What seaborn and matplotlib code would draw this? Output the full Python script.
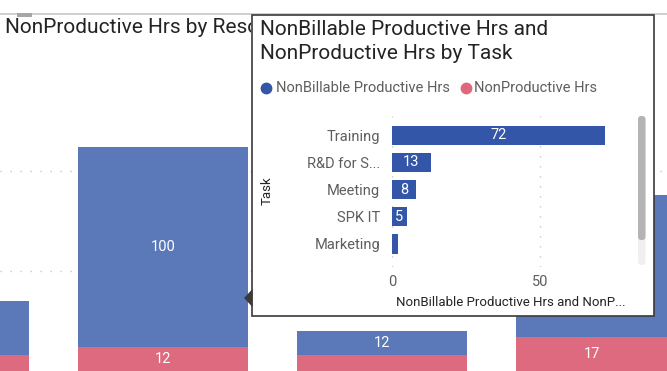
import matplotlib
matplotlib.use("Agg")
import matplotlib.pyplot as plt
import seaborn as sns
import pandas as pd
from matplotlib.patches import Rectangle, Polygon, FancyBboxPatch
from matplotlib.lines import Line2D
from matplotlib.transforms import IdentityTransform, Bbox, TransformedBbox

# ---------------- data ----------------
resources = ["Resource 1", "Resource 2", "Resource 3", "Resource 4"]
bg_nonbillable = [27, 100, 12, 71]
bg_nonproductive = [8, 12, 8, 17]

tasks = ["Training", "R&D for S...", "Meeting", "SPK IT", "Marketing"]
task_hours = [72, 13, 8, 5, 2]

legend_labels = ["NonBillable Productive Hrs", "NonProductive Hrs"]
bg_title = "NonProductive Hrs by Reso"
tip_title = "NonBillable Productive Hrs and\nNonProductive Hrs by Task"
x_title = "NonBillable Productive Hrs and NonP..."
y_title = "Task"
x_ticks = [0, 50]
bg_grid = [50, 100]

# ---------------- style ----------------
BLUE_BG = "#5B79B8"
PINK_BG = "#DD6A7E"
BLUE = "#3356A8"
PINK = "#E0687C"
DARK = "#252423"
GRAY = "#605E5C"
GRID = "#C8C8C8"
DOTS = (0, (1, 6.2))

W, H = 667, 371
sns.set_theme(style="white")
plt.rcParams["font.family"] = ["Roboto", "DejaVu Sans"]

fig = plt.figure(figsize=(W / 100, H / 100), dpi=100)


def fx(px):
    return px / W


def fy(py):
    return 1 - py / H


def visible_labels(axis, container, values, minimum):
    lo, hi = axis.get_xlim()
    out = []
    for patch, v in zip(container.patches, values):
        c = patch.get_x() + patch.get_width() / 2
        out.append(str(v) if (v >= minimum and lo <= c <= hi) else "")
    return out


# ---------------- background chart ----------------
ax = fig.add_axes([0, 0, 1, 1])
ax.set_zorder(0)
df_bg = pd.DataFrame({"Resource": resources,
                      "NB": bg_nonbillable,
                      "NP": bg_nonproductive})
sns.barplot(data=df_bg, x="Resource", y="NP", color=PINK_BG, width=0.776,
            saturation=1, errorbar=None, linewidth=0, ax=ax)
sns.barplot(data=df_bg, x="Resource", y="NB", color=BLUE_BG, width=0.776,
            saturation=1, errorbar=None, linewidth=0,
            bottom=df_bg["NP"].values, ax=ax)
ax.set_xlim(0.2557, 3.301)
ax.set_ylim(0, 185.5)
ax.bar_label(ax.containers[0],
             labels=visible_labels(ax, ax.containers[0], bg_nonproductive, 10),
             label_type="center", color="white", fontsize=10.5)
ax.bar_label(ax.containers[1],
             labels=visible_labels(ax, ax.containers[1], bg_nonbillable, 10),
             label_type="center", color="white", fontsize=10.5)
ax.set_yticks(bg_grid)
ax.yaxis.grid(True, color=GRID, linestyle=DOTS, linewidth=1)
ax.set_axisbelow(True)
ax.tick_params(labelbottom=False, labelleft=False, length=0)
ax.set_xlabel("")
ax.set_ylabel("")
for s in ax.spines.values():
    s.set_visible(False)

# background title, cut off by the tooltip as in the screenshot
t_bg = fig.text(fx(5), fy(33), bg_title, fontsize=15, color=DARK,
                va="baseline", ha="left", zorder=0.5)
t_bg.set_clip_box(TransformedBbox(Bbox([[0, 0], [fx(251), 1]]),
                                  fig.transFigure))
t_bg.set_clip_on(True)
fig.add_artist(Line2D([0, 1], [fy(14), fy(14)], color="#C8C8C8", lw=1.2,
                      zorder=0.6))
fig.add_artist(Rectangle((fx(17), fy(17)), fx(15), fy(13) - fy(17),
                         facecolor="#A6A6A6", edgecolor="none", zorder=0.7))

# ---------------- tooltip box ----------------
fig.add_artist(Rectangle((fx(252), fy(316)), fx(654) - fx(252), fy(15) - fy(316),
                         facecolor="white", edgecolor="#3A3A3A", lw=1.2,
                         zorder=1))
fig.add_artist(Polygon([(fx(244), fy(298)), (fx(252.5), fy(289)),
                        (fx(252.5), fy(307))], closed=True,
                       facecolor="#3A3A3A", edgecolor="none", zorder=1))

lines = tip_title.split("\n")
fig.text(fx(260), fy(35), lines[0], fontsize=15, color=DARK,
         va="baseline", ha="left", zorder=3)
fig.text(fx(260), fy(59), lines[1], fontsize=15, color=DARK,
         va="baseline", ha="left", zorder=3)

# legend
for (cx, tx, lab, col) in [(266, 276, legend_labels[0], BLUE),
                           (466, 474, legend_labels[1], PINK)]:
    fig.add_artist(Line2D([fx(cx)], [fy(88)], marker="o", markersize=7.5,
                          color=col, linestyle="", zorder=3))
    fig.text(fx(tx), fy(88), lab, fontsize=10.5, color=GRAY,
             va="center", ha="left", zorder=3)

# ---------------- tooltip bar chart ----------------
ax2 = fig.add_axes([fx(392), fy(267), fx(629) - fx(392), fy(116) - fy(267)])
ax2.set_zorder(2)
ax2.patch.set_alpha(0)
df_t = pd.DataFrame({"Task": tasks, "Hours": task_hours})
sns.barplot(data=df_t, y="Task", x="Hours", orient="h", color=BLUE,
            width=0.71, saturation=1, errorbar=None, linewidth=0, ax=ax2)
ax2.bar_label(ax2.containers[0],
              labels=[str(v) if v >= 5 else "" for v in task_hours],
              label_type="center", color="white", fontsize=10.5)
ax2.set_xlim(0, 80)
ax2.set_ylim(4.85, -0.71)
ax2.set_xticks(x_ticks)
ax2.xaxis.grid(True, color=GRID, linestyle=DOTS, linewidth=1)
ax2.yaxis.grid(False)
ax2.set_axisbelow(True)
for s in ax2.spines.values():
    s.set_visible(False)
ax2.tick_params(axis="y", length=0, pad=8.5, labelsize=10.5, labelcolor=GRAY)
ax2.tick_params(axis="x", length=0, pad=6, labelsize=10.5, labelcolor=GRAY)
ax2.set_xlabel(x_title, fontsize=9.5, color=DARK, va="center")
ax2.xaxis.set_label_coords(0.5, (267 - 302) / (267 - 116))
ax2.set_ylabel(y_title, fontsize=9.5, color=DARK, va="center")
ax2.yaxis.set_label_coords((267 - 392) / (629 - 392), (267 - 191) / (267 - 116))

# scrollbar
fig.add_artist(FancyBboxPatch((638, H - 265), 7.5, 149,
                              boxstyle="round,pad=0,rounding_size=3.5",
                              facecolor="#F0F0F0", edgecolor="none",
                              transform=IdentityTransform(), zorder=3))
fig.add_artist(FancyBboxPatch((638, H - 240), 7.5, 124,
                              boxstyle="round,pad=0,rounding_size=3.5",
                              facecolor="#B4B4B4", edgecolor="none",
                              transform=IdentityTransform(), zorder=3))

fig.savefig("out.png", dpi=100)
